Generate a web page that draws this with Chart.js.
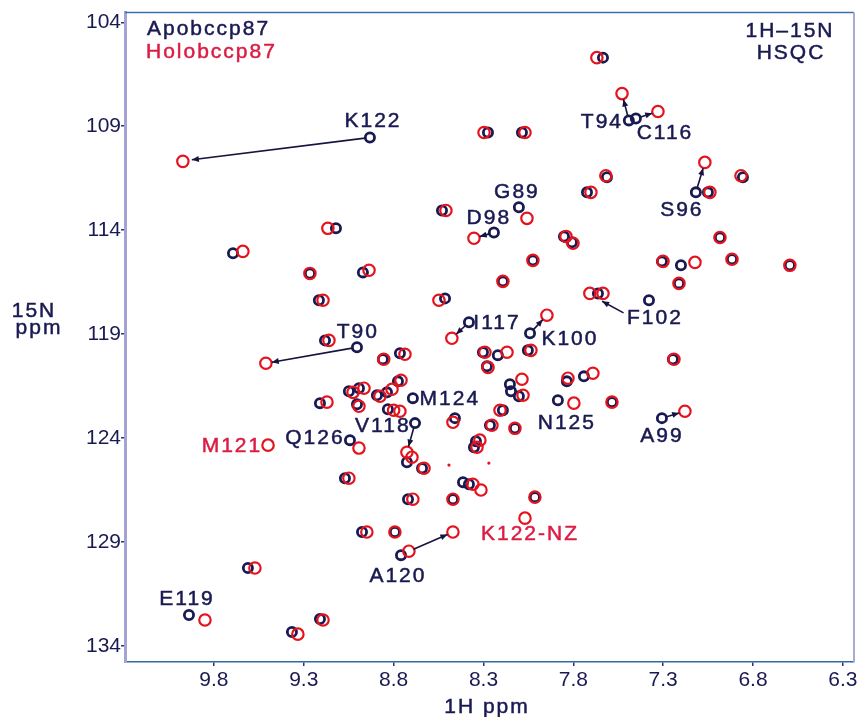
<!DOCTYPE html>
<html>
<head>
<meta charset="utf-8">
<script src="https://cdn.jsdelivr.net/npm/chart.js@4.4.1/dist/chart.umd.min.js"></script>
<style>
  body { margin: 0; background: #fff; }
  canvas { display: block; }
</style>
</head>
<body>
<canvas id="hsqc" width="860" height="717"></canvas>
<script>
// axis ticks (ppm)
const xTicks = [9.8, 9.3, 8.8, 8.3, 7.8, 7.3, 6.8, 6.3];
const yTicks = [104, 109, 114, 119, 124, 129, 134];

// peaks [1H ppm, 15N ppm]
const apoPeaks = [
  [7.635, 105.70], [8.932, 109.54], [7.491, 108.72], [7.452, 108.63], [8.275, 109.30],
  [8.086, 109.30], [9.121, 113.91], [8.531, 113.05], [8.103, 112.90], [8.242, 114.11],
  [7.724, 112.18], [7.613, 111.45], [7.118, 112.18], [7.051, 112.18], [6.856, 111.45],
  [7.852, 114.30], [7.808, 114.58], [6.984, 114.35], [9.694, 115.11], [9.266, 116.08],
  [8.971, 116.03], [8.025, 115.45], [7.307, 115.50], [7.201, 115.69], [6.917, 115.40],
  [6.595, 115.69], [9.216, 117.37], [8.514, 117.28], [8.192, 116.46], [7.212, 116.56],
  [7.663, 117.04], [7.379, 117.37], [8.381, 118.43], [8.041, 118.96], [8.053, 119.78],
  [9.182, 119.30], [9.004, 119.63], [8.860, 120.21], [8.765, 119.92], [8.303, 119.87],
  [8.220, 120.01], [8.281, 120.55], [7.246, 120.21], [8.776, 121.27], [9.049, 121.75],
  [8.993, 121.60], [9.004, 122.37], [9.210, 122.32], [8.893, 121.94], [8.837, 121.80],
  [8.832, 122.61], [8.693, 122.08], [8.681, 123.28], [8.726, 125.16], [8.642, 125.45],
  [9.043, 124.10], [9.071, 125.93], [8.414, 126.12], [8.381, 126.22], [8.720, 126.94],
  [8.470, 126.94], [8.014, 126.84], [8.976, 128.52], [8.793, 128.52], [8.759, 129.63],
  [9.611, 130.25], [9.939, 132.51], [9.210, 132.70], [9.366, 133.33], [7.585, 122.27],
  [8.153, 121.41], [8.147, 121.75], [8.103, 121.99], [7.836, 121.27], [7.741, 121.03],
  [7.886, 122.18], [8.192, 122.66], [8.459, 123.04], [8.264, 123.38], [8.125, 123.53],
  [8.342, 124.15], [8.353, 124.44], [7.307, 123.04]
];

const holoPeaks = [
  [7.669, 105.70], [9.973, 110.69], [7.529, 107.43], [7.329, 108.29], [8.297, 109.30],
  [8.069, 109.30], [9.166, 113.91], [8.509, 113.05], [8.058, 113.43], [8.353, 114.39],
  [7.702, 112.18], [7.619, 111.38], [7.068, 110.74], [7.040, 112.18], [6.867, 111.38],
  [7.841, 114.30], [7.802, 114.63], [6.984, 114.35], [9.639, 115.02], [9.266, 116.08],
  [8.937, 115.93], [8.025, 115.45], [7.301, 115.50], [7.123, 115.55], [6.917, 115.40],
  [6.595, 115.69], [9.193, 117.37], [8.548, 117.37], [8.192, 116.46], [7.212, 116.56],
  [7.635, 117.04], [7.708, 117.04], [8.476, 119.20], [7.947, 118.09], [8.036, 119.78],
  [9.160, 119.30], [9.511, 120.40], [8.855, 120.21], [8.737, 119.97], [8.292, 119.87],
  [8.169, 119.87], [8.275, 120.60], [7.240, 120.21], [8.759, 121.22], [9.026, 121.80],
  [8.965, 121.60], [8.993, 122.47], [9.171, 122.27], [8.876, 121.99], [8.809, 121.65],
  [8.800, 122.66], [8.765, 122.71], [8.726, 124.68], [8.698, 124.92], [8.631, 125.45],
  [8.993, 124.48], [9.049, 125.93], [8.359, 126.22], [8.314, 126.50], [8.693, 126.94],
  [8.470, 126.94], [8.014, 126.84], [8.949, 128.52], [8.793, 128.52], [8.715, 129.44],
  [9.572, 130.25], [9.850, 132.75], [9.193, 132.75], [9.333, 133.43], [7.585, 122.27],
  [8.086, 121.17], [8.080, 121.94], [7.830, 121.12], [7.691, 120.88], [7.797, 122.32],
  [8.208, 122.66], [8.470, 123.24], [8.253, 123.38], [8.125, 123.53], [8.320, 124.10],
  [8.336, 124.44], [7.179, 122.71], [8.470, 128.52], [8.069, 127.85], [9.499, 124.34]
];

const holoSpecks = [[8.492, 125.30], [8.270, 125.20]];

// residue labels [text, 1H, 15N, which]
const peakLabels = [
  ['K122', 8.915, 108.72, 'apo'], ['T94', 7.641, 108.77, 'apo'], ['C116', 7.290, 109.30, 'apo'],
  ['G89', 8.114, 112.14, 'apo'], ['D98', 8.270, 113.38, 'apo'], ['S96', 7.196, 113.00, 'apo'],
  ['F102', 7.346, 118.19, 'apo'], ['I117', 8.225, 118.43, 'apo'], ['K100', 7.819, 119.20, 'apo'],
  ['T90', 8.999, 118.87, 'apo'], ['M124', 8.487, 122.08, 'apo'], ['V118', 8.860, 123.38, 'apo'],
  ['N125', 7.836, 123.23, 'apo'], ['A99', 7.307, 123.86, 'apo'], ['Q126', 9.238, 123.96, 'apo'],
  ['M121', 9.700, 124.34, 'holo'], ['K122-NZ', 8.041, 128.57, 'holo'], ['A120', 8.776, 130.59, 'apo'],
  ['E119', 9.950, 131.69, 'apo']
];

// shift arrows [from 1H, from 15N, to 1H, to 15N]
const shiftArrows = [
  [8.932, 109.54, 9.956, 110.65], [9.004, 119.63, 9.511, 120.40], [7.491, 108.72, 7.529, 107.43],
  [7.452, 108.63, 7.329, 108.29], [7.118, 112.18, 7.068, 110.74], [8.242, 114.11, 8.353, 114.39],
  [8.381, 118.43, 8.476, 119.20], [8.041, 118.96, 7.947, 118.09], [7.496, 118.09, 7.669, 117.28],
  [8.681, 123.28, 8.726, 124.68], [7.307, 123.04, 7.179, 122.71], [8.715, 129.44, 8.470, 128.52]
];

const NAVY = '#1a1a52';
const RED = '#e3141e';
const CRIMSON = '#dc1c44';
const FONT = '"Liberation Sans", Arial, sans-serif';

function heavyText(ctx, t, px, py) {
  ctx.fillText(t, px, py);
  ctx.strokeText(t, px, py);
}

const overlay = {
  id: 'overlay',
  afterDatasetsDraw(chart) {
    const { ctx, chartArea: a, scales: { x, y } } = chart;
    ctx.save();
    // frame top / right
    ctx.lineWidth = 1.5;
    ctx.strokeStyle = '#3a70aa';
    ctx.beginPath(); ctx.moveTo(a.left, a.top); ctx.lineTo(a.right, a.top); ctx.stroke();
    ctx.strokeStyle = '#aaaad8';
    ctx.lineWidth = 2;
    ctx.beginPath(); ctx.moveTo(a.right, a.top); ctx.lineTo(a.right, a.bottom); ctx.stroke();

    // arrows
    ctx.strokeStyle = '#141440';
    ctx.fillStyle = '#141440';
    ctx.lineWidth = 1.6;
    shiftArrows.forEach(([h1, n1, h2, n2]) => {
      let x1 = x.getPixelForValue(h1), y1 = y.getPixelForValue(n1);
      let x2 = x.getPixelForValue(h2), y2 = y.getPixelForValue(n2);
      const L = Math.hypot(x2 - x1, y2 - y1), ux = (x2 - x1) / L, uy = (y2 - y1) / L;
      x1 += ux * 5; y1 += uy * 5; x2 -= ux * 6; y2 -= uy * 6;
      ctx.beginPath(); ctx.moveTo(x1, y1); ctx.lineTo(x2, y2); ctx.stroke();
      ctx.beginPath();
      ctx.moveTo(x2, y2);
      ctx.lineTo(x2 - ux * 7 - uy * 3, y2 - uy * 7 + ux * 3);
      ctx.lineTo(x2 - ux * 7 + uy * 3, y2 - uy * 7 - ux * 3);
      ctx.closePath(); ctx.fill();
    });

    // residue labels
    ctx.font = '21px ' + FONT;
    ctx.letterSpacing = '2px';
    ctx.lineWidth = 0.5;
    ctx.textAlign = 'center';
    ctx.textBaseline = 'middle';
    peakLabels.forEach(([t, h, n, w]) => {
      ctx.fillStyle = ctx.strokeStyle = w === 'holo' ? CRIMSON : NAVY;
      heavyText(ctx, t, x.getPixelForValue(h), y.getPixelForValue(n) + 1);
    });

    // legend + experiment
    ctx.textBaseline = 'alphabetic';
    ctx.textAlign = 'left';
    ctx.fillStyle = ctx.strokeStyle = NAVY;
    heavyText(ctx, 'Apobccp87', a.left + 22, 35);
    ctx.fillStyle = ctx.strokeStyle = CRIMSON;
    heavyText(ctx, 'Holobccp87', a.left + 21, 58);
    ctx.textAlign = 'center';
    ctx.fillStyle = ctx.strokeStyle = NAVY;
    heavyText(ctx, '1H\u201315N', 790, 37);
    heavyText(ctx, 'HSQC', 791, 59);

    // axis titles
    heavyText(ctx, '15N', 34, 317);
    heavyText(ctx, 'ppm', 39, 334);
    heavyText(ctx, '1H ppm', 487, 713);
    ctx.restore();
  }
};

new Chart(document.getElementById('hsqc'), {
  type: 'scatter',
  data: {
    datasets: [
      {
        label: 'Apobccp87',
        data: apoPeaks.map(([h, n]) => ({ x: h, y: n })),
        pointStyle: 'circle', pointRadius: 4.6, borderWidth: 2.8,
        borderColor: NAVY, backgroundColor: 'rgba(0,0,0,0)', order: 2
      },
      {
        label: 'Holobccp87',
        data: holoPeaks.map(([h, n]) => ({ x: h, y: n })),
        pointStyle: 'circle', pointRadius: 5.7, borderWidth: 2.2,
        borderColor: RED, backgroundColor: 'rgba(0,0,0,0)', order: 1
      },
      {
        label: 'specks',
        data: holoSpecks.map(([h, n]) => ({ x: h, y: n })),
        pointStyle: 'circle', pointRadius: 1.6, borderWidth: 0,
        backgroundColor: RED, order: 0
      }
    ]
  },
  options: {
    responsive: false,
    animation: false,
    devicePixelRatio: 1,
    layout: { autoPadding: false, padding: { left: 0, right: 6, top: 12, bottom: 0 } },
    plugins: { legend: { display: false }, tooltip: { enabled: false } },
    scales: {
      x: {
        type: 'linear', reverse: true, min: 6.238, max: 10.295,
        afterBuildTicks: s => { s.ticks = xTicks.map(v => ({ value: v })); },
        afterFit: s => { s.height = 55; },
        grid: { drawOnChartArea: false, drawTicks: true, tickLength: 4, color: '#30307a', lineWidth: 1.5 },
        border: { display: true, color: '#2f6aa6', width: 1.5 },
        ticks: { callback: v => v.toFixed(1), color: NAVY, padding: 2, maxRotation: 0, font: { family: FONT, size: 21 } }
      },
      y: {
        type: 'linear', reverse: true, min: 103.534, max: 134.77,
        afterBuildTicks: s => { s.ticks = yTicks.map(v => ({ value: v })); },
        afterFit: s => { s.width = 125; },
        grid: { drawOnChartArea: false, drawTicks: true, tickLength: 4, color: '#30307a', lineWidth: 1.5 },
        border: { display: true, color: '#a4a4d4', width: 3 },
        ticks: { color: NAVY, padding: 0, font: { family: FONT, size: 21 } }
      }
    }
  },
  plugins: [overlay]
});
</script>
</body>
</html>
